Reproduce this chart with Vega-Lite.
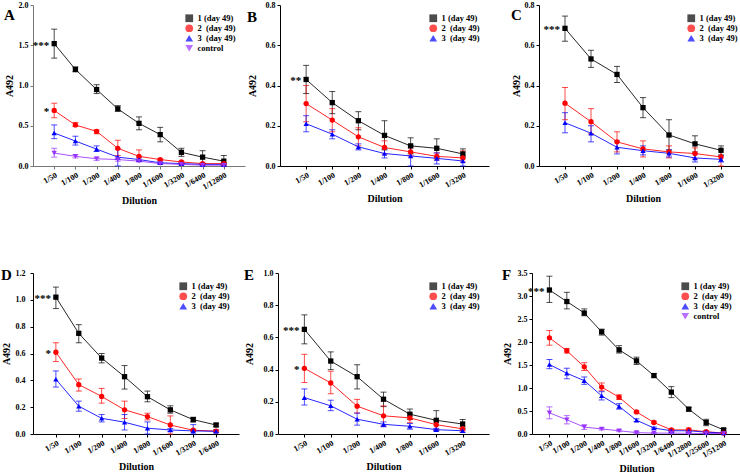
{
"$schema": "https://vega.github.io/schema/vega-lite/v6.json",
"padding": {"left": 1, "top": 1, "right": 2, "bottom": 1},
"background": "white",
"data": {"values": [
{"p":"A","d":"1/50","s":"1","m":1.52,"lo":1.34,"hi":1.70,"sig":"***"},
{"p":"A","d":"1/100","s":"1","m":1.20,"lo":1.17,"hi":1.23},
{"p":"A","d":"1/200","s":"1","m":0.95,"lo":0.90,"hi":1.01},
{"p":"A","d":"1/400","s":"1","m":0.71,"lo":0.68,"hi":0.75},
{"p":"A","d":"1/800","s":"1","m":0.53,"lo":0.45,"hi":0.61},
{"p":"A","d":"1/1600","s":"1","m":0.39,"lo":0.30,"hi":0.48},
{"p":"A","d":"1/3200","s":"1","m":0.17,"lo":0.12,"hi":0.22},
{"p":"A","d":"1/6400","s":"1","m":0.11,"lo":0.03,"hi":0.19},
{"p":"A","d":"1/12800","s":"1","m":0.06,"lo":0.0,"hi":0.13},
{"p":"A","d":"1/50","s":"2","m":0.69,"lo":0.60,"hi":0.78,"sig":"*"},
{"p":"A","d":"1/100","s":"2","m":0.51,"lo":0.49,"hi":0.54},
{"p":"A","d":"1/200","s":"2","m":0.43,"lo":0.40,"hi":0.45},
{"p":"A","d":"1/400","s":"2","m":0.22,"lo":0.13,"hi":0.32},
{"p":"A","d":"1/800","s":"2","m":0.12,"lo":0.07,"hi":0.20},
{"p":"A","d":"1/1600","s":"2","m":0.08,"lo":0.07,"hi":0.09},
{"p":"A","d":"1/3200","s":"2","m":0.05,"lo":0.04,"hi":0.06},
{"p":"A","d":"1/6400","s":"2","m":0.03,"lo":0.02,"hi":0.04},
{"p":"A","d":"1/12800","s":"2","m":0.03,"lo":0.02,"hi":0.04},
{"p":"A","d":"1/50","s":"3","m":0.41,"lo":0.34,"hi":0.51},
{"p":"A","d":"1/100","s":"3","m":0.31,"lo":0.26,"hi":0.37},
{"p":"A","d":"1/200","s":"3","m":0.21,"lo":0.18,"hi":0.25},
{"p":"A","d":"1/400","s":"3","m":0.11,"lo":0.0,"hi":0.21},
{"p":"A","d":"1/800","s":"3","m":0.08,"lo":0.06,"hi":0.10},
{"p":"A","d":"1/1600","s":"3","m":0.04,"lo":0.03,"hi":0.05},
{"p":"A","d":"1/3200","s":"3","m":0.03,"lo":0.02,"hi":0.04},
{"p":"A","d":"1/6400","s":"3","m":0.02,"lo":0.01,"hi":0.03},
{"p":"A","d":"1/12800","s":"3","m":0.02,"lo":0.01,"hi":0.03},
{"p":"A","d":"1/50","s":"control","m":0.16,"lo":0.11,"hi":0.22},
{"p":"A","d":"1/100","s":"control","m":0.12,"lo":0.10,"hi":0.14},
{"p":"A","d":"1/200","s":"control","m":0.09,"lo":0.07,"hi":0.11},
{"p":"A","d":"1/400","s":"control","m":0.08,"lo":0.06,"hi":0.10},
{"p":"A","d":"1/800","s":"control","m":0.06,"lo":0.05,"hi":0.07},
{"p":"A","d":"1/1600","s":"control","m":0.03,"lo":0.02,"hi":0.04},
{"p":"A","d":"1/3200","s":"control","m":0.02,"lo":0.01,"hi":0.03},
{"p":"A","d":"1/6400","s":"control","m":0.01,"lo":0.0,"hi":0.02},
{"p":"A","d":"1/12800","s":"control","m":0.01,"lo":0.0,"hi":0.02},

{"p":"B","d":"1/50","s":"1","m":0.43,"lo":0.36,"hi":0.50,"sig":"**"},
{"p":"B","d":"1/100","s":"1","m":0.315,"lo":0.26,"hi":0.37},
{"p":"B","d":"1/200","s":"1","m":0.225,"lo":0.18,"hi":0.27},
{"p":"B","d":"1/400","s":"1","m":0.152,"lo":0.08,"hi":0.225},
{"p":"B","d":"1/800","s":"1","m":0.10,"lo":0.06,"hi":0.14},
{"p":"B","d":"1/1600","s":"1","m":0.088,"lo":0.04,"hi":0.135},
{"p":"B","d":"1/3200","s":"1","m":0.06,"lo":0.04,"hi":0.085},
{"p":"B","d":"1/50","s":"2","m":0.31,"lo":0.22,"hi":0.40},
{"p":"B","d":"1/100","s":"2","m":0.228,"lo":0.17,"hi":0.285},
{"p":"B","d":"1/200","s":"2","m":0.145,"lo":0.10,"hi":0.19},
{"p":"B","d":"1/400","s":"2","m":0.092,"lo":0.06,"hi":0.125},
{"p":"B","d":"1/800","s":"2","m":0.07,"lo":0.05,"hi":0.09},
{"p":"B","d":"1/1600","s":"2","m":0.048,"lo":0.03,"hi":0.065},
{"p":"B","d":"1/3200","s":"2","m":0.04,"lo":0.02,"hi":0.075},
{"p":"B","d":"1/50","s":"3","m":0.21,"lo":0.17,"hi":0.25},
{"p":"B","d":"1/100","s":"3","m":0.158,"lo":0.135,"hi":0.18},
{"p":"B","d":"1/200","s":"3","m":0.095,"lo":0.08,"hi":0.11},
{"p":"B","d":"1/400","s":"3","m":0.062,"lo":0.04,"hi":0.085},
{"p":"B","d":"1/800","s":"3","m":0.05,"lo":0.0,"hi":0.10},
{"p":"B","d":"1/1600","s":"3","m":0.038,"lo":0.01,"hi":0.065},
{"p":"B","d":"1/3200","s":"3","m":0.025,"lo":0.0,"hi":0.05},

{"p":"C","d":"1/50","s":"1","m":0.684,"lo":0.62,"hi":0.745,"sig":"***"},
{"p":"C","d":"1/100","s":"1","m":0.532,"lo":0.49,"hi":0.575},
{"p":"C","d":"1/200","s":"1","m":0.455,"lo":0.415,"hi":0.495},
{"p":"C","d":"1/400","s":"1","m":0.29,"lo":0.24,"hi":0.34},
{"p":"C","d":"1/800","s":"1","m":0.154,"lo":0.08,"hi":0.23},
{"p":"C","d":"1/1600","s":"1","m":0.11,"lo":0.07,"hi":0.15},
{"p":"C","d":"1/3200","s":"1","m":0.078,"lo":0.055,"hi":0.10},
{"p":"C","d":"1/50","s":"2","m":0.312,"lo":0.23,"hi":0.39},
{"p":"C","d":"1/100","s":"2","m":0.22,"lo":0.16,"hi":0.285},
{"p":"C","d":"1/200","s":"2","m":0.12,"lo":0.07,"hi":0.17},
{"p":"C","d":"1/400","s":"2","m":0.085,"lo":0.045,"hi":0.125},
{"p":"C","d":"1/800","s":"2","m":0.07,"lo":0.04,"hi":0.10},
{"p":"C","d":"1/1600","s":"2","m":0.062,"lo":0.035,"hi":0.09},
{"p":"C","d":"1/3200","s":"2","m":0.045,"lo":0.0,"hi":0.08},
{"p":"C","d":"1/50","s":"3","m":0.215,"lo":0.165,"hi":0.265},
{"p":"C","d":"1/100","s":"3","m":0.163,"lo":0.12,"hi":0.20},
{"p":"C","d":"1/200","s":"3","m":0.093,"lo":0.06,"hi":0.125},
{"p":"C","d":"1/400","s":"3","m":0.076,"lo":0.055,"hi":0.10},
{"p":"C","d":"1/800","s":"3","m":0.063,"lo":0.045,"hi":0.08},
{"p":"C","d":"1/1600","s":"3","m":0.04,"lo":0.02,"hi":0.06},
{"p":"C","d":"1/3200","s":"3","m":0.033,"lo":0.02,"hi":0.05},

{"p":"D","d":"1/50","s":"1","m":1.02,"lo":0.935,"hi":1.095,"sig":"***"},
{"p":"D","d":"1/100","s":"1","m":0.75,"lo":0.68,"hi":0.815},
{"p":"D","d":"1/200","s":"1","m":0.566,"lo":0.53,"hi":0.60},
{"p":"D","d":"1/400","s":"1","m":0.427,"lo":0.335,"hi":0.51},
{"p":"D","d":"1/800","s":"1","m":0.278,"lo":0.24,"hi":0.32},
{"p":"D","d":"1/1600","s":"1","m":0.18,"lo":0.155,"hi":0.21},
{"p":"D","d":"1/3200","s":"1","m":0.107,"lo":0.09,"hi":0.125},
{"p":"D","d":"1/6400","s":"1","m":0.067,"lo":0.055,"hi":0.08},
{"p":"D","d":"1/50","s":"2","m":0.61,"lo":0.54,"hi":0.68,"sig":"*"},
{"p":"D","d":"1/100","s":"2","m":0.368,"lo":0.32,"hi":0.41},
{"p":"D","d":"1/200","s":"2","m":0.28,"lo":0.23,"hi":0.34},
{"p":"D","d":"1/400","s":"2","m":0.18,"lo":0.115,"hi":0.245},
{"p":"D","d":"1/800","s":"2","m":0.13,"lo":0.105,"hi":0.155},
{"p":"D","d":"1/1600","s":"2","m":0.067,"lo":0.0,"hi":0.135},
{"p":"D","d":"1/3200","s":"2","m":0.028,"lo":0.02,"hi":0.035},
{"p":"D","d":"1/6400","s":"2","m":0.022,"lo":0.015,"hi":0.03},
{"p":"D","d":"1/50","s":"3","m":0.408,"lo":0.35,"hi":0.47},
{"p":"D","d":"1/100","s":"3","m":0.207,"lo":0.17,"hi":0.245},
{"p":"D","d":"1/200","s":"3","m":0.117,"lo":0.09,"hi":0.145},
{"p":"D","d":"1/400","s":"3","m":0.088,"lo":0.03,"hi":0.145},
{"p":"D","d":"1/800","s":"3","m":0.043,"lo":0.0,"hi":0.09},
{"p":"D","d":"1/1600","s":"3","m":0.03,"lo":0.02,"hi":0.04},
{"p":"D","d":"1/3200","s":"3","m":0.023,"lo":0.0,"hi":0.07},
{"p":"D","d":"1/6400","s":"3","m":0.02,"lo":0.01,"hi":0.03},

{"p":"E","d":"1/50","s":"1","m":0.65,"lo":0.56,"hi":0.74,"sig":"***"},
{"p":"E","d":"1/100","s":"1","m":0.453,"lo":0.40,"hi":0.51},
{"p":"E","d":"1/200","s":"1","m":0.356,"lo":0.28,"hi":0.43},
{"p":"E","d":"1/400","s":"1","m":0.216,"lo":0.17,"hi":0.26},
{"p":"E","d":"1/800","s":"1","m":0.123,"lo":0.09,"hi":0.155},
{"p":"E","d":"1/1600","s":"1","m":0.085,"lo":0.02,"hi":0.145},
{"p":"E","d":"1/3200","s":"1","m":0.062,"lo":0.035,"hi":0.09},
{"p":"E","d":"1/50","s":"2","m":0.408,"lo":0.32,"hi":0.495,"sig":"*"},
{"p":"E","d":"1/100","s":"2","m":0.317,"lo":0.25,"hi":0.39},
{"p":"E","d":"1/200","s":"2","m":0.173,"lo":0.13,"hi":0.215},
{"p":"E","d":"1/400","s":"2","m":0.113,"lo":0.05,"hi":0.175},
{"p":"E","d":"1/800","s":"2","m":0.10,"lo":0.07,"hi":0.13},
{"p":"E","d":"1/1600","s":"2","m":0.058,"lo":0.03,"hi":0.085},
{"p":"E","d":"1/3200","s":"2","m":0.032,"lo":0.02,"hi":0.045},
{"p":"E","d":"1/50","s":"3","m":0.226,"lo":0.18,"hi":0.28},
{"p":"E","d":"1/100","s":"3","m":0.175,"lo":0.145,"hi":0.21},
{"p":"E","d":"1/200","s":"3","m":0.092,"lo":0.055,"hi":0.13},
{"p":"E","d":"1/400","s":"3","m":0.06,"lo":0.045,"hi":0.075},
{"p":"E","d":"1/800","s":"3","m":0.048,"lo":0.03,"hi":0.065},
{"p":"E","d":"1/1600","s":"3","m":0.027,"lo":0.02,"hi":0.035},
{"p":"E","d":"1/3200","s":"3","m":0.02,"lo":0.01,"hi":0.03},

{"p":"F","d":"1/50","s":"1","m":3.13,"lo":2.86,"hi":3.43,"sig":"***"},
{"p":"F","d":"1/100","s":"1","m":2.88,"lo":2.72,"hi":3.08},
{"p":"F","d":"1/200","s":"1","m":2.63,"lo":2.57,"hi":2.72},
{"p":"F","d":"1/400","s":"1","m":2.22,"lo":2.15,"hi":2.28},
{"p":"F","d":"1/800","s":"1","m":1.83,"lo":1.76,"hi":1.92},
{"p":"F","d":"1/1600","s":"1","m":1.59,"lo":1.51,"hi":1.67},
{"p":"F","d":"1/3200","s":"1","m":1.27,"lo":1.24,"hi":1.31},
{"p":"F","d":"1/6400","s":"1","m":0.91,"lo":0.79,"hi":1.03},
{"p":"F","d":"1/12800","s":"1","m":0.54,"lo":0.50,"hi":0.58},
{"p":"F","d":"1/25600","s":"1","m":0.25,"lo":0.18,"hi":0.32},
{"p":"F","d":"1/51200","s":"1","m":0.09,"lo":0.06,"hi":0.12},
{"p":"F","d":"1/50","s":"2","m":2.09,"lo":1.93,"hi":2.25},
{"p":"F","d":"1/100","s":"2","m":1.81,"lo":1.76,"hi":1.86},
{"p":"F","d":"1/200","s":"2","m":1.46,"lo":1.38,"hi":1.55},
{"p":"F","d":"1/400","s":"2","m":1.02,"lo":0.94,"hi":1.11},
{"p":"F","d":"1/800","s":"2","m":0.80,"lo":0.75,"hi":0.85},
{"p":"F","d":"1/1600","s":"2","m":0.48,"lo":0.46,"hi":0.50},
{"p":"F","d":"1/3200","s":"2","m":0.25,"lo":0.23,"hi":0.28},
{"p":"F","d":"1/6400","s":"2","m":0.09,"lo":0.07,"hi":0.11},
{"p":"F","d":"1/12800","s":"2","m":0.09,"lo":0.04,"hi":0.13},
{"p":"F","d":"1/25600","s":"2","m":0.05,"lo":0.03,"hi":0.07},
{"p":"F","d":"1/51200","s":"2","m":0.02,"lo":0.01,"hi":0.03},
{"p":"F","d":"1/50","s":"3","m":1.51,"lo":1.42,"hi":1.62},
{"p":"F","d":"1/100","s":"3","m":1.32,"lo":1.20,"hi":1.43},
{"p":"F","d":"1/200","s":"3","m":1.16,"lo":1.08,"hi":1.24},
{"p":"F","d":"1/400","s":"3","m":0.83,"lo":0.74,"hi":0.92},
{"p":"F","d":"1/800","s":"3","m":0.60,"lo":0.54,"hi":0.66},
{"p":"F","d":"1/1600","s":"3","m":0.30,"lo":0.27,"hi":0.33},
{"p":"F","d":"1/3200","s":"3","m":0.13,"lo":0.11,"hi":0.15},
{"p":"F","d":"1/6400","s":"3","m":0.07,"lo":0.05,"hi":0.09},
{"p":"F","d":"1/12800","s":"3","m":0.07,"lo":0.05,"hi":0.09},
{"p":"F","d":"1/25600","s":"3","m":0.04,"lo":0.02,"hi":0.06},
{"p":"F","d":"1/51200","s":"3","m":0.02,"lo":0.01,"hi":0.03},
{"p":"F","d":"1/50","s":"control","m":0.46,"lo":0.33,"hi":0.59},
{"p":"F","d":"1/100","s":"control","m":0.31,"lo":0.22,"hi":0.40},
{"p":"F","d":"1/200","s":"control","m":0.15,"lo":0.10,"hi":0.20},
{"p":"F","d":"1/400","s":"control","m":0.11,"lo":0.09,"hi":0.13},
{"p":"F","d":"1/800","s":"control","m":0.07,"lo":0.05,"hi":0.09},
{"p":"F","d":"1/1600","s":"control","m":0.03,"lo":0.01,"hi":0.05},
{"p":"F","d":"1/3200","s":"control","m":0.02,"lo":0.01,"hi":0.03},
{"p":"F","d":"1/6400","s":"control","m":0.02,"lo":0.01,"hi":0.03},
{"p":"F","d":"1/12800","s":"control","m":0.015,"lo":0.005,"hi":0.025},
{"p":"F","d":"1/25600","s":"control","m":0.01,"lo":0.0,"hi":0.02},
{"p":"F","d":"1/51200","s":"control","m":0.01,"lo":0.0,"hi":0.02}
]},
"config": {
  "view": {"stroke": null},
  "font": "Liberation Serif",
  "axis": {"grid": false, "domainColor": "#000", "tickColor": "#000", "labelFont": "Liberation Serif", "labelFontWeight": "bold", "labelFontSize": 8, "labelColor": "#000", "titleFont": "Liberation Serif", "titleFontWeight": "bold", "titleFontSize": 10, "titleColor": "#000", "tickSize": 3, "labelPadding": 2, "labelOverlap": false},
  "axisX": {"labelAngle": -30, "titlePadding": 4, "titleFontSize": 10},
  "legend": {"labelFont": "Liberation Serif", "labelFontWeight": "bold", "labelFontSize": 8.5, "labelColor": "#000", "orient": "top-right", "symbolSize": 60, "rowPadding": 1, "padding": 0, "offset": 9, "symbolStrokeWidth": 0, "labelOffset": 4},
  "title": {"font": "Liberation Serif", "fontSize": 15, "fontWeight": "bold", "anchor": "start", "frame": "bounds", "offset": -22, "color": "#000"},
  "text": {"font": "Liberation Serif"}
},
"resolve": {"scale": {"color": "independent", "shape": "independent"}, "legend": {"color": "independent", "shape": "independent"}},
"spacing": 62,
"vconcat": [
{
"resolve": {"scale": {"color": "independent", "shape": "independent"}, "legend": {"color": "independent", "shape": "independent"}},
"spacing": 22,
"hconcat": [
{
"resolve": {"scale": {"color": "independent", "shape": "independent"}, "legend": {"color": "independent", "shape": "independent"}},
"spacing": 2,
"hconcat": [
{
 "width": 212, "height": 161,
 "title": {"text": "A"},
 "transform": [{"filter": "datum.p == 'A'"}],
 "encoding": {"x": {"field": "d", "type": "ordinal", "title": "Dilution", "sort": ["1/50","1/100","1/200","1/400","1/800","1/1600","1/3200","1/6400","1/12800"], "scale": {"type": "point", "padding": 1}, "axis": {"domainColor": "#777", "tickColor": "#777", "labelOverlap": false}}},
 "layer": [
  {"mark": {"type": "rule", "strokeWidth": 1, "opacity": 0.7},
   "encoding": {"y": {"field": "lo", "type": "quantitative", "title": "A492", "scale": {"domain": [0, 2]}, "axis": {"values": [0, 0.5, 1, 1.5, 2], "tickCount": 12, "format": ".1f", "titlePadding": 4, "domainColor": "#777", "tickColor": "#777", "labelOverlap": false}}, "y2": {"field": "hi"},
     "color": {"field": "s", "type": "nominal", "scale": {"domain": ["1","2","3","control"], "range": ["#000000","#ff0000","#0000ff","#9933ff"]}}}},
  {"mark": {"type": "tick", "thickness": 1, "size": 6, "opacity": 0.7},
   "encoding": {"y": {"field": "lo", "type": "quantitative", "title": "A492", "scale": {"domain": [0, 2]}},
     "color": {"field": "s", "type": "nominal", "scale": {"domain": ["1","2","3","control"], "range": ["#000000","#ff0000","#0000ff","#9933ff"]}}}},
  {"mark": {"type": "tick", "thickness": 1, "size": 6, "opacity": 0.7},
   "encoding": {"y": {"field": "hi", "type": "quantitative", "title": "A492", "scale": {"domain": [0, 2]}},
     "color": {"field": "s", "type": "nominal", "scale": {"domain": ["1","2","3","control"], "range": ["#000000","#ff0000","#0000ff","#9933ff"]}}}},
  {"mark": {"type": "line", "strokeWidth": 1, "opacity": 0.85},
   "encoding": {"y": {"field": "m", "type": "quantitative", "title": "A492", "scale": {"domain": [0, 2]}},
     "color": {"field": "s", "type": "nominal", "scale": {"domain": ["1","2","3","control"], "range": ["#000000","#ff0000","#0000ff","#9933ff"]}}}},
  {"mark": {"type": "point", "filled": true, "size": 28, "opacity": 1},
   "encoding": {"y": {"field": "m", "type": "quantitative", "title": "A492", "scale": {"domain": [0, 2]}},
     "color": {"field": "s", "type": "nominal", "scale": {"domain": ["1","2","3","control"], "range": ["#000000","#ff0000","#0000ff","#9933ff"]}, "legend": {"title": null, "labelExpr": "datum.label == 'control' ? 'control' : datum.label == '1' ? '1 (day 49)' : datum.label + '\u00a0 (day 49)'"}},
     "shape": {"field": "s", "type": "nominal", "scale": {"domain": ["1","2","3","control"], "range": ["square","circle","triangle-up","triangle-down"]}, "legend": {"title": null, "labelExpr": "datum.label == 'control' ? 'control' : datum.label == '1' ? '1 (day 49)' : datum.label + '\u00a0 (day 49)'"}}}},
  {"transform": [{"filter": "datum.sig"}],
   "mark": {"type": "text", "align": "right", "baseline": "middle", "dx": -5, "dy": 2, "fontSize": 11, "fontWeight": "bold", "color": "#000"},
   "encoding": {"y": {"field": "m", "type": "quantitative", "title": "A492", "scale": {"domain": [0, 2]}}, "text": {"field": "sig"}}}
 ]
},
{
 "width": 209, "height": 161,
 "title": {"text": "B", "offset": -24},
 "transform": [{"filter": "datum.p == 'B'"}],
 "encoding": {"x": {"field": "d", "type": "ordinal", "title": "Dilution", "sort": ["1/50","1/100","1/200","1/400","1/800","1/1600","1/3200"], "scale": {"type": "point", "padding": 1}, "axis": {"labelOverlap": false}}},
 "layer": [
  {"mark": {"type": "rule", "strokeWidth": 1, "opacity": 0.7},
   "encoding": {"y": {"field": "lo", "type": "quantitative", "title": "A492", "scale": {"domain": [0, 0.8]}, "axis": {"values": [0, 0.2, 0.4, 0.6, 0.8], "tickCount": 12, "format": ".1f", "titlePadding": 8, "labelOverlap": false}}, "y2": {"field": "hi"},
     "color": {"field": "s", "type": "nominal", "scale": {"domain": ["1","2","3"], "range": ["#000000","#ff0000","#0000ff"]}}}},
  {"mark": {"type": "tick", "thickness": 1, "size": 6, "opacity": 0.7},
   "encoding": {"y": {"field": "lo", "type": "quantitative", "title": "A492", "scale": {"domain": [0, 0.8]}},
     "color": {"field": "s", "type": "nominal", "scale": {"domain": ["1","2","3"], "range": ["#000000","#ff0000","#0000ff"]}}}},
  {"mark": {"type": "tick", "thickness": 1, "size": 6, "opacity": 0.7},
   "encoding": {"y": {"field": "hi", "type": "quantitative", "title": "A492", "scale": {"domain": [0, 0.8]}},
     "color": {"field": "s", "type": "nominal", "scale": {"domain": ["1","2","3"], "range": ["#000000","#ff0000","#0000ff"]}}}},
  {"mark": {"type": "line", "strokeWidth": 1, "opacity": 0.85},
   "encoding": {"y": {"field": "m", "type": "quantitative", "title": "A492", "scale": {"domain": [0, 0.8]}},
     "color": {"field": "s", "type": "nominal", "scale": {"domain": ["1","2","3"], "range": ["#000000","#ff0000","#0000ff"]}}}},
  {"mark": {"type": "point", "filled": true, "size": 28, "opacity": 1},
   "encoding": {"y": {"field": "m", "type": "quantitative", "title": "A492", "scale": {"domain": [0, 0.8]}},
     "color": {"field": "s", "type": "nominal", "scale": {"domain": ["1","2","3"], "range": ["#000000","#ff0000","#0000ff"]}, "legend": {"title": null, "labelExpr": "datum.label == '1' ? '1 (day 49)' : datum.label + '\u00a0 (day 49)'"}},
     "shape": {"field": "s", "type": "nominal", "scale": {"domain": ["1","2","3"], "range": ["square","circle","triangle-up"]}, "legend": {"title": null, "labelExpr": "datum.label == '1' ? '1 (day 49)' : datum.label + '\u00a0 (day 49)'"}}}},
  {"transform": [{"filter": "datum.sig"}],
   "mark": {"type": "text", "align": "right", "baseline": "middle", "dx": -5, "dy": 2, "fontSize": 11, "fontWeight": "bold", "color": "#000"},
   "encoding": {"y": {"field": "m", "type": "quantitative", "title": "A492", "scale": {"domain": [0, 0.8]}}, "text": {"field": "sig"}}}
 ]
}
]
},
{
 "width": 208, "height": 161,
 "title": {"text": "C"},
 "transform": [{"filter": "datum.p == 'C'"}],
 "encoding": {"x": {"field": "d", "type": "ordinal", "title": "Dilution", "sort": ["1/50","1/100","1/200","1/400","1/800","1/1600","1/3200"], "scale": {"type": "point", "padding": 1}, "axis": {"labelOverlap": false}}},
 "layer": [
  {"mark": {"type": "rule", "strokeWidth": 1, "opacity": 0.7},
   "encoding": {"y": {"field": "lo", "type": "quantitative", "title": "A492", "scale": {"domain": [0, 0.8]}, "axis": {"values": [0, 0.2, 0.4, 0.6, 0.8], "tickCount": 12, "format": ".1f", "titlePadding": 3, "labelOverlap": false}}, "y2": {"field": "hi"},
     "color": {"field": "s", "type": "nominal", "scale": {"domain": ["1","2","3"], "range": ["#000000","#ff0000","#0000ff"]}}}},
  {"mark": {"type": "tick", "thickness": 1, "size": 6, "opacity": 0.7},
   "encoding": {"y": {"field": "lo", "type": "quantitative", "title": "A492", "scale": {"domain": [0, 0.8]}},
     "color": {"field": "s", "type": "nominal", "scale": {"domain": ["1","2","3"], "range": ["#000000","#ff0000","#0000ff"]}}}},
  {"mark": {"type": "tick", "thickness": 1, "size": 6, "opacity": 0.7},
   "encoding": {"y": {"field": "hi", "type": "quantitative", "title": "A492", "scale": {"domain": [0, 0.8]}},
     "color": {"field": "s", "type": "nominal", "scale": {"domain": ["1","2","3"], "range": ["#000000","#ff0000","#0000ff"]}}}},
  {"mark": {"type": "line", "strokeWidth": 1, "opacity": 0.85},
   "encoding": {"y": {"field": "m", "type": "quantitative", "title": "A492", "scale": {"domain": [0, 0.8]}},
     "color": {"field": "s", "type": "nominal", "scale": {"domain": ["1","2","3"], "range": ["#000000","#ff0000","#0000ff"]}}}},
  {"mark": {"type": "point", "filled": true, "size": 28, "opacity": 1},
   "encoding": {"y": {"field": "m", "type": "quantitative", "title": "A492", "scale": {"domain": [0, 0.8]}},
     "color": {"field": "s", "type": "nominal", "scale": {"domain": ["1","2","3"], "range": ["#000000","#ff0000","#0000ff"]}, "legend": {"title": null, "labelExpr": "datum.label == '1' ? '1 (day 49)' : datum.label + '\u00a0 (day 49)'"}},
     "shape": {"field": "s", "type": "nominal", "scale": {"domain": ["1","2","3"], "range": ["square","circle","triangle-up"]}, "legend": {"title": null, "labelExpr": "datum.label == '1' ? '1 (day 49)' : datum.label + '\u00a0 (day 49)'"}}}},
  {"transform": [{"filter": "datum.sig"}],
   "mark": {"type": "text", "align": "right", "baseline": "middle", "dx": -5, "dy": 2, "fontSize": 11, "fontWeight": "bold", "color": "#000"},
   "encoding": {"y": {"field": "m", "type": "quantitative", "title": "A492", "scale": {"domain": [0, 0.8]}}, "text": {"field": "sig"}}}
 ]
}
]
},
{
"resolve": {"scale": {"color": "independent", "shape": "independent"}, "legend": {"color": "independent", "shape": "independent"}},
"spacing": 13,
"hconcat": [
{
"resolve": {"scale": {"color": "independent", "shape": "independent"}, "legend": {"color": "independent", "shape": "independent"}},
"spacing": 5,
"hconcat": [
{
 "width": 206, "height": 161,
 "title": {"text": "D", "offset": -14},
 "transform": [{"filter": "datum.p == 'D'"}],
 "encoding": {"x": {"field": "d", "type": "ordinal", "title": "Dilution", "sort": ["1/50","1/100","1/200","1/400","1/800","1/1600","1/3200","1/6400"], "scale": {"type": "point", "padding": 1}, "axis": {"labelOverlap": false}}},
 "layer": [
  {"mark": {"type": "rule", "strokeWidth": 1, "opacity": 0.7},
   "encoding": {"y": {"field": "lo", "type": "quantitative", "title": "A492", "scale": {"domain": [0, 1.2]}, "axis": {"values": [0, 0.2, 0.4, 0.6, 0.8, 1.0, 1.2], "tickCount": 12, "format": ".1f", "titlePadding": 4, "labelPadding": 5, "labelOverlap": false}}, "y2": {"field": "hi"},
     "color": {"field": "s", "type": "nominal", "scale": {"domain": ["1","2","3"], "range": ["#000000","#ff0000","#0000ff"]}}}},
  {"mark": {"type": "tick", "thickness": 1, "size": 6, "opacity": 0.7},
   "encoding": {"y": {"field": "lo", "type": "quantitative", "title": "A492", "scale": {"domain": [0, 1.2]}},
     "color": {"field": "s", "type": "nominal", "scale": {"domain": ["1","2","3"], "range": ["#000000","#ff0000","#0000ff"]}}}},
  {"mark": {"type": "tick", "thickness": 1, "size": 6, "opacity": 0.7},
   "encoding": {"y": {"field": "hi", "type": "quantitative", "title": "A492", "scale": {"domain": [0, 1.2]}},
     "color": {"field": "s", "type": "nominal", "scale": {"domain": ["1","2","3"], "range": ["#000000","#ff0000","#0000ff"]}}}},
  {"mark": {"type": "line", "strokeWidth": 1, "opacity": 0.85},
   "encoding": {"y": {"field": "m", "type": "quantitative", "title": "A492", "scale": {"domain": [0, 1.2]}},
     "color": {"field": "s", "type": "nominal", "scale": {"domain": ["1","2","3"], "range": ["#000000","#ff0000","#0000ff"]}}}},
  {"mark": {"type": "point", "filled": true, "size": 28, "opacity": 1},
   "encoding": {"y": {"field": "m", "type": "quantitative", "title": "A492", "scale": {"domain": [0, 1.2]}},
     "color": {"field": "s", "type": "nominal", "scale": {"domain": ["1","2","3"], "range": ["#000000","#ff0000","#0000ff"]}, "legend": {"title": null, "labelExpr": "datum.label == '1' ? '1 (day 49)' : datum.label + '\u00a0 (day 49)'"}},
     "shape": {"field": "s", "type": "nominal", "scale": {"domain": ["1","2","3"], "range": ["square","circle","triangle-up"]}, "legend": {"title": null, "labelExpr": "datum.label == '1' ? '1 (day 49)' : datum.label + '\u00a0 (day 49)'"}}}},
  {"transform": [{"filter": "datum.sig"}],
   "mark": {"type": "text", "align": "right", "baseline": "middle", "dx": -5, "dy": 2, "fontSize": 11, "fontWeight": "bold", "color": "#000"},
   "encoding": {"y": {"field": "m", "type": "quantitative", "title": "A492", "scale": {"domain": [0, 1.2]}}, "text": {"field": "sig"}}}
 ]
},
{
 "width": 211, "height": 161,
 "title": {"text": "E", "offset": -14},
 "transform": [{"filter": "datum.p == 'E'"}],
 "encoding": {"x": {"field": "d", "type": "ordinal", "title": "Dilution", "sort": ["1/50","1/100","1/200","1/400","1/800","1/1600","1/3200"], "scale": {"type": "point", "padding": 1}, "axis": {"labelOverlap": false}}},
 "layer": [
  {"mark": {"type": "rule", "strokeWidth": 1, "opacity": 0.7},
   "encoding": {"y": {"field": "lo", "type": "quantitative", "title": "A492", "scale": {"domain": [0, 1.0]}, "axis": {"values": [0, 0.2, 0.4, 0.6, 0.8, 1.0], "tickCount": 12, "format": ".1f", "titlePadding": 9, "labelOverlap": false}}, "y2": {"field": "hi"},
     "color": {"field": "s", "type": "nominal", "scale": {"domain": ["1","2","3"], "range": ["#000000","#ff0000","#0000ff"]}}}},
  {"mark": {"type": "tick", "thickness": 1, "size": 6, "opacity": 0.7},
   "encoding": {"y": {"field": "lo", "type": "quantitative", "title": "A492", "scale": {"domain": [0, 1.0]}},
     "color": {"field": "s", "type": "nominal", "scale": {"domain": ["1","2","3"], "range": ["#000000","#ff0000","#0000ff"]}}}},
  {"mark": {"type": "tick", "thickness": 1, "size": 6, "opacity": 0.7},
   "encoding": {"y": {"field": "hi", "type": "quantitative", "title": "A492", "scale": {"domain": [0, 1.0]}},
     "color": {"field": "s", "type": "nominal", "scale": {"domain": ["1","2","3"], "range": ["#000000","#ff0000","#0000ff"]}}}},
  {"mark": {"type": "line", "strokeWidth": 1, "opacity": 0.85},
   "encoding": {"y": {"field": "m", "type": "quantitative", "title": "A492", "scale": {"domain": [0, 1.0]}},
     "color": {"field": "s", "type": "nominal", "scale": {"domain": ["1","2","3"], "range": ["#000000","#ff0000","#0000ff"]}}}},
  {"mark": {"type": "point", "filled": true, "size": 28, "opacity": 1},
   "encoding": {"y": {"field": "m", "type": "quantitative", "title": "A492", "scale": {"domain": [0, 1.0]}},
     "color": {"field": "s", "type": "nominal", "scale": {"domain": ["1","2","3"], "range": ["#000000","#ff0000","#0000ff"]}, "legend": {"title": null, "labelExpr": "datum.label == '1' ? '1 (day 49)' : datum.label + '\u00a0 (day 49)'"}},
     "shape": {"field": "s", "type": "nominal", "scale": {"domain": ["1","2","3"], "range": ["square","circle","triangle-up"]}, "legend": {"title": null, "labelExpr": "datum.label == '1' ? '1 (day 49)' : datum.label + '\u00a0 (day 49)'"}}}},
  {"transform": [{"filter": "datum.sig"}],
   "mark": {"type": "text", "align": "right", "baseline": "middle", "dx": -5, "dy": 2, "fontSize": 11, "fontWeight": "bold", "color": "#000"},
   "encoding": {"y": {"field": "m", "type": "quantitative", "title": "A492", "scale": {"domain": [0, 1.0]}}, "text": {"field": "sig"}}}
 ]
}
]
},
{
 "width": 209, "height": 161,
 "title": {"text": "F", "offset": -14},
 "transform": [{"filter": "datum.p == 'F'"}],
 "encoding": {"x": {"field": "d", "type": "ordinal", "title": "Dilution", "sort": ["1/50","1/100","1/200","1/400","1/800","1/1600","1/3200","1/6400","1/12800","1/25600","1/51200"], "scale": {"type": "point", "padding": 1}, "axis": {"labelOverlap": false}}},
 "layer": [
  {"mark": {"type": "rule", "strokeWidth": 1, "opacity": 0.7},
   "encoding": {"y": {"field": "lo", "type": "quantitative", "title": "A492", "scale": {"domain": [0, 3.5]}, "axis": {"values": [0, 0.5, 1, 1.5, 2, 2.5, 3, 3.5], "tickCount": 12, "format": ".1f", "titlePadding": 5, "labelOverlap": false}}, "y2": {"field": "hi"},
     "color": {"field": "s", "type": "nominal", "scale": {"domain": ["1","2","3","control"], "range": ["#000000","#ff0000","#0000ff","#9933ff"]}}}},
  {"mark": {"type": "tick", "thickness": 1, "size": 6, "opacity": 0.7},
   "encoding": {"y": {"field": "lo", "type": "quantitative", "title": "A492", "scale": {"domain": [0, 3.5]}},
     "color": {"field": "s", "type": "nominal", "scale": {"domain": ["1","2","3","control"], "range": ["#000000","#ff0000","#0000ff","#9933ff"]}}}},
  {"mark": {"type": "tick", "thickness": 1, "size": 6, "opacity": 0.7},
   "encoding": {"y": {"field": "hi", "type": "quantitative", "title": "A492", "scale": {"domain": [0, 3.5]}},
     "color": {"field": "s", "type": "nominal", "scale": {"domain": ["1","2","3","control"], "range": ["#000000","#ff0000","#0000ff","#9933ff"]}}}},
  {"mark": {"type": "line", "strokeWidth": 1, "opacity": 0.85},
   "encoding": {"y": {"field": "m", "type": "quantitative", "title": "A492", "scale": {"domain": [0, 3.5]}},
     "color": {"field": "s", "type": "nominal", "scale": {"domain": ["1","2","3","control"], "range": ["#000000","#ff0000","#0000ff","#9933ff"]}}}},
  {"mark": {"type": "point", "filled": true, "size": 28, "opacity": 1},
   "encoding": {"y": {"field": "m", "type": "quantitative", "title": "A492", "scale": {"domain": [0, 3.5]}},
     "color": {"field": "s", "type": "nominal", "scale": {"domain": ["1","2","3","control"], "range": ["#000000","#ff0000","#0000ff","#9933ff"]}, "legend": {"title": null, "labelExpr": "datum.label == 'control' ? 'control' : datum.label == '1' ? '1 (day 49)' : datum.label + '\u00a0 (day 49)'"}},
     "shape": {"field": "s", "type": "nominal", "scale": {"domain": ["1","2","3","control"], "range": ["square","circle","triangle-up","triangle-down"]}, "legend": {"title": null, "labelExpr": "datum.label == 'control' ? 'control' : datum.label == '1' ? '1 (day 49)' : datum.label + '\u00a0 (day 49)'"}}}},
  {"transform": [{"filter": "datum.sig"}],
   "mark": {"type": "text", "align": "right", "baseline": "middle", "dx": -5, "dy": 2, "fontSize": 11, "fontWeight": "bold", "color": "#000"},
   "encoding": {"y": {"field": "m", "type": "quantitative", "title": "A492", "scale": {"domain": [0, 3.5]}}, "text": {"field": "sig"}}}
 ]
}
]
}
]
}
